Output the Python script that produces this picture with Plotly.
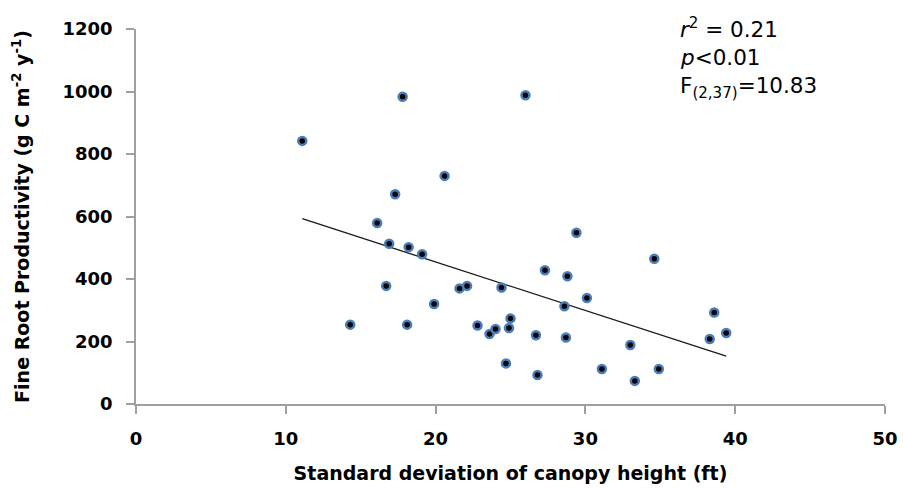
import plotly.graph_objects as go

sd_canopy_height = [11.1, 17.8, 20.6, 17.3, 16.1, 16.9, 18.2, 19.1, 26.0, 29.4, 34.6,
                    16.7, 14.3, 18.1, 19.9, 21.6, 22.1, 22.8, 27.3, 28.8, 24.4, 30.1,
                    28.6, 25.0, 23.6, 24.0, 24.9, 26.7, 28.7, 33.0, 38.6, 38.3, 39.4,
                    24.7, 26.8, 31.1, 33.3, 34.9]
root_productivity = [842, 983, 730, 671, 579, 513, 502, 479, 988, 548, 465,
                     378, 254, 254, 320, 370, 378, 251, 428, 409, 373, 339,
                     313, 274, 224, 240, 243, 220, 213, 189, 293, 208, 227,
                     130, 93, 112, 74, 112]

# Fitted trend line endpoints as shown in the reference
trend_x = [11.1, 39.4]
trend_y = [593, 153]

x_ticks = [0, 10, 20, 30, 40, 50]
y_ticks = [0, 200, 400, 600, 800, 1000, 1200]

stats_lines = ["<i>r</i><sup>2</sup> = 0.21", "<i>p</i>&lt;0.01", "F<sub>(2,37)</sub>=10.83"]

FONT = "DejaVu Sans"
AXIS_GREY = "#A0A0A0"

fig = go.Figure()
fig.add_trace(go.Scatter(
    x=trend_x, y=trend_y, mode="lines",
    line=dict(color="#1a1a1a", width=1.3),
    showlegend=False, hoverinfo="skip",
))
fig.add_trace(go.Scatter(
    x=sd_canopy_height, y=root_productivity, mode="markers",
    marker=dict(size=8, color="black", line=dict(color="#4A7EBB", width=2.5)),
    showlegend=False,
))

ann_y = [1.003, 0.923, 0.843]
for txt, yy in zip(stats_lines, ann_y):
    fig.add_annotation(
        text=txt, xref="paper", yref="paper", x=0.7236, y=yy,
        xanchor="left", yanchor="middle", showarrow=False,
        font=dict(family=FONT, size=21.5, color="black"),
    )

fig.update_layout(
    width=903, height=491,
    margin=dict(l=136, r=18, t=29, b=87),
    paper_bgcolor="white", plot_bgcolor="white",
    font=dict(family=FONT, color="black"),
    xaxis=dict(
        range=[0, 50], tickvals=x_ticks, ticktext=[str(v) for v in x_ticks],
        showgrid=False, zeroline=False, automargin=False,
        showline=True, linecolor=AXIS_GREY, linewidth=1.5,
        ticks="outside", ticklen=8, tickcolor=AXIS_GREY, tickwidth=1.5,
        ticklabelstandoff=10,
        tickfont=dict(family=FONT, size=18, color="black", weight="bold"),
        title=dict(text="Standard deviation of canopy height (ft)",
                   font=dict(family=FONT, size=19, color="black", weight="bold"),
                   standoff=18),
    ),
    yaxis=dict(
        range=[0, 1200], tickvals=y_ticks, ticktext=[str(v) for v in y_ticks],
        showgrid=False, zeroline=False, automargin=False,
        showline=True, linecolor=AXIS_GREY, linewidth=1.5,
        ticks="outside", ticklen=8, tickcolor=AXIS_GREY, tickwidth=1.5,
        ticklabelstandoff=10,
        tickfont=dict(family=FONT, size=18, color="black", weight="bold"),
        title=dict(text="Fine Root Productivity (g C m<sup>-2</sup> y<sup>-1</sup>)",
                   font=dict(family=FONT, size=19, color="black", weight="bold"),
                   standoff=28),
    ),
)

fig.write_html(
    "out.html",
    config={"displayModeBar": False},
    post_script="document.body.style.margin='0';document.body.style.overflow='hidden';",
)
